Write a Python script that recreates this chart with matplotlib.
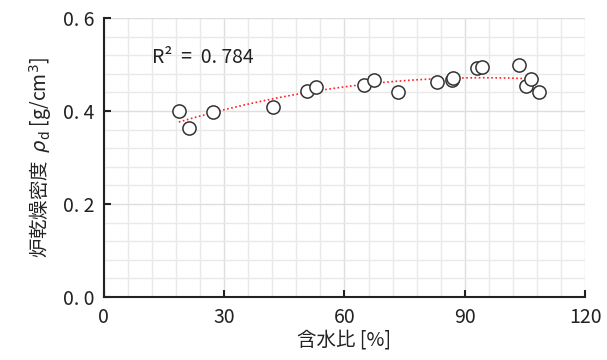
import numpy as np
import matplotlib
matplotlib.use('Agg')
import matplotlib.pyplot as plt
from matplotlib.ticker import MultipleLocator, FuncFormatter

plt.rcParams['font.family'] = ['Noto Sans CJK JP', 'DejaVu Sans']

# water content [%] and oven-dry density [g/cm3]
water_content = [18.7, 21.2, 27.2, 42.1, 50.6, 52.9, 64.8, 67.3, 73.3,
                 83.0, 86.8, 87.0, 93.0, 94.4, 103.5, 105.2, 106.4, 108.4]
dry_density = [0.400, 0.363, 0.398, 0.409, 0.443, 0.452, 0.456, 0.467, 0.441,
               0.462, 0.467, 0.471, 0.493, 0.494, 0.498, 0.453, 0.468, 0.441]
r2_text = 'R²  =  0. 784'

x = np.array(water_content)
y = np.array(dry_density)
coef = np.polyfit(x, y, 2)
xs = np.linspace(x.min(), x.max(), 200)

fig = plt.figure(figsize=(6.07, 3.60), dpi=100)
ax = fig.add_axes([0.171, 0.175, 0.793, 0.775])

ax.plot(xs, np.polyval(coef, xs), color='#ff2020', linestyle=(0, (1, 1.5)),
        linewidth=1.2, zorder=2)
ax.plot(x, y, 'o', markersize=9.5, markerfacecolor='white',
        markeredgecolor='#333333', markeredgewidth=1.1, zorder=3)

ax.set_xlim(0, 120)
ax.set_ylim(0, 0.6)
ax.xaxis.set_major_locator(MultipleLocator(30))
ax.xaxis.set_minor_locator(MultipleLocator(6))
ax.yaxis.set_major_locator(MultipleLocator(0.2))
ax.yaxis.set_minor_locator(MultipleLocator(0.04))
ax.yaxis.set_major_formatter(FuncFormatter(lambda v, p: f'{v:.1f}'.replace('.', '. ')))

ax.grid(which='major', color='#dedede', linewidth=1.0, zorder=0)
ax.grid(which='minor', color='#e9e9e9', linewidth=1.0, zorder=0)
ax.set_axisbelow(True)

for s in ['top', 'right']:
    ax.spines[s].set_visible(False)
for s in ['left', 'bottom']:
    ax.spines[s].set_linewidth(1.5)
    ax.spines[s].set_color('#222222')

ax.tick_params(which='major', direction='in', length=5, width=1.5,
               labelsize=14, colors='#222222', pad=7)
ax.tick_params(which='minor', length=0)

ax.text(12, 0.503, r2_text, fontsize=14, color='#222222')

ax.set_xlabel('含水比 [%]', fontsize=14, color='#222222', labelpad=1)
ax.set_ylabel(r'炉乾燥密度  $\rho_{\rm d}$ [g/cm$^3$]', fontsize=14,
              color='#222222', labelpad=6)

fig.savefig('out.png', dpi=100)
